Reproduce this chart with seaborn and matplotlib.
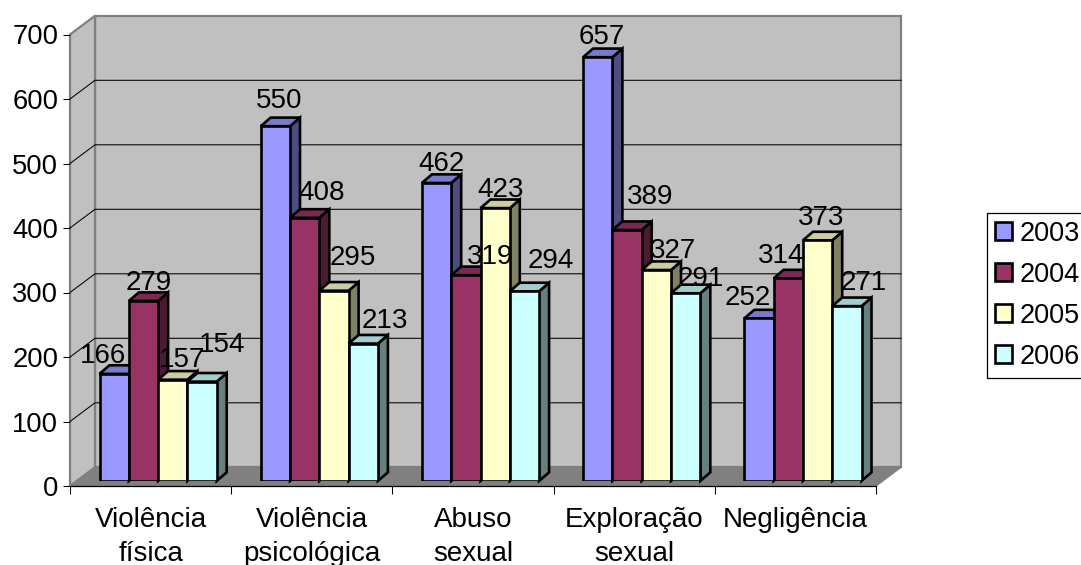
import matplotlib
matplotlib.use("Agg")
import matplotlib.pyplot as plt
from matplotlib.colors import to_rgb
from matplotlib.patches import Polygon
import numpy as np
import pandas as pd
import seaborn as sns

categories = ["Violência\nfísica", "Violência\npsicológica", "Abuso\nsexual",
              "Exploração\nsexual", "Negligência"]
years = ["2003", "2004", "2005", "2006"]
values_2003 = [166, 550, 462, 657, 252]
values_2004 = [279, 408, 319, 389, 314]
values_2005 = [157, 295, 423, 327, 373]
values_2006 = [154, 213, 294, 291, 271]
y_ticks = [0, 100, 200, 300, 400, 500, 600, 700]

colors = ["#9999FF", "#993366", "#FFFFCC", "#CCFFFF"]

# Hand-placed value labels: offset in pixels from each bar's top centre (x, up)
label_nudges = {
    "2003": [(-11, 18), (4, 25), (5, 19), (4, 20), (-11, 20)],
    "2004": [(5, 18), (17, 25), (24, 18), (23, 33), (-7, 22)],
    "2005": [(9, 20), (19, 33), (5, 18), (17, 19), (4, 22)],
    "2006": [(20, 37), (22, 23), (26, 30), (15, 14), (17, 23)],
}

plt.rcParams["font.family"] = ["Liberation Sans", "DejaVu Sans"]
W, H = 1081, 565
fig = plt.figure(figsize=(W / 100, H / 100), dpi=100)

# Front plane of the box, in pixels
left, right, base, top = 70, 876, 486, 34.5
px_per_cat = (right - left) / 5
px_per_val = (base - top) / 700

# Depth of the box and of a bar, in pixels
wall_dx, wall_dy = 25, 18.7
bar_dx, bar_dy = 10, 8.6
shift_x = (wall_dx - bar_dx) / 2
shift_y = (wall_dy - bar_dy) / 2

wall_ax = fig.add_axes([left / W, 1 - base / H, (right - left) / W, (base - top) / H])
bar_ax = fig.add_axes([(left + shift_x) / W, 1 - (base - shift_y) / H,
                       (right - left) / W, (base - top) / H])
x_lim = (-0.5, 4.5)
y_lim = (0, 700)

# Walls and floor of the box
wall_ax.set_xlim(x_lim)
wall_ax.set_ylim(y_lim)
dx = wall_dx / px_per_cat
dy = wall_dy / px_per_val
x0, x1 = x_lim
ymax = y_lim[1]
wall_style = dict(clip_on=False, edgecolor="#808080", linewidth=1.6)
wall_ax.add_patch(Polygon([(x0 + dx, dy), (x1 + dx, dy), (x1 + dx, ymax + dy), (x0 + dx, ymax + dy)],
                          facecolor="#C0C0C0", zorder=1, **wall_style))
wall_ax.add_patch(Polygon([(x0, 0), (x0 + dx, dy), (x0 + dx, ymax + dy), (x0, ymax)],
                          facecolor="#C0C0C0", zorder=1, **wall_style))
wall_ax.add_patch(Polygon([(x0, 0), (x1, 0), (x1 + dx, dy), (x0 + dx, dy)],
                          facecolor="#808080", edgecolor="#808080", clip_on=False, zorder=1))
for v in y_ticks[1:-1]:
    wall_ax.plot([x0, x0 + dx, x1 + dx], [v, v + dy, v + dy], color="black", lw=0.75,
                 clip_on=False, zorder=2)

for side in ["top", "right", "left"]:
    wall_ax.spines[side].set_visible(False)
wall_ax.spines["bottom"].set_linewidth(0.9)
wall_ax.spines["bottom"].set_zorder(3)
wall_ax.set_yticks(y_ticks)
wall_ax.tick_params(axis="y", length=5, width=0.75, pad=3.4, labelsize=19.7)
wall_ax.set_xticks(np.arange(5))
wall_ax.set_xticklabels(categories, fontsize=20, linespacing=1.4, va="top")
wall_ax.tick_params(axis="x", which="major", length=0, pad=15)
wall_ax.set_xticks(np.arange(6) - 0.5, minor=True)
wall_ax.tick_params(axis="x", which="minor", length=5.5, width=0.75)

# Bars: the front faces come from seaborn
table = pd.DataFrame({
    "categoria": np.tile(categories, len(years)),
    "ano": np.repeat(years, len(categories)),
    "casos": values_2003 + values_2004 + values_2005 + values_2006,
})
bar_width_px = 29.3
line_width = 1.9
sns.barplot(data=table, x="categoria", y="casos", hue="ano", order=categories, hue_order=years,
            palette=colors, saturation=1, width=4 * bar_width_px / px_per_cat, gap=0,
            errorbar=None, edgecolor="black", linewidth=line_width, ax=bar_ax)
bar_ax.set_xlim(x_lim)
bar_ax.set_ylim(y_lim)
bar_ax.set_axis_off()
bar_ax.patch.set_alpha(0)


def shade(color, factor):
    return tuple(c * factor for c in to_rgb(color))


# Side and top faces extruded from each front face, painted left to right
bdx = bar_dx / px_per_cat
bdy = bar_dy / px_per_val
edge = dict(edgecolor="black", linewidth=line_width, joinstyle="miter", clip_on=False)
for s, (year, container) in enumerate(zip(years, bar_ax.containers)):
    for g, bar in enumerate(container.patches):
        xa, w, h = bar.get_x(), bar.get_width(), bar.get_height()
        xb = xa + w
        z = 3 + g * 4 + s
        bar_ax.add_patch(Polygon([(xb, 0), (xb + bdx, bdy), (xb + bdx, h + bdy), (xb, h)],
                                 facecolor=shade(colors[s], 0.5), zorder=z, **edge))
        bar_ax.add_patch(Polygon([(xa, h), (xb, h), (xb + bdx, h + bdy), (xa + bdx, h + bdy)],
                                 facecolor=shade(colors[s], 0.8), zorder=z, **edge))
        bar.set_zorder(z + 0.5)
        bar.set_joinstyle("miter")
        nudge = label_nudges[year][g]
        bar_ax.annotate(str(int(h)), (xa + w / 2, h), xytext=nudge,
                        textcoords="offset pixels", ha="center", va="center",
                        fontsize=20, color="black", zorder=100, annotation_clip=False)

sns.move_legend(bar_ax, "upper left", bbox_to_anchor=(987 / W, 1 - 212.7 / H),
                bbox_transform=fig.transFigure, title=None, frameon=True, fancybox=False,
                framealpha=1, edgecolor="black", fontsize=19.5, handlelength=0.64, handleheight=0.64,
                handletextpad=0.28, labelspacing=0.55, borderpad=0.3, borderaxespad=0)
legend = bar_ax.get_legend()
legend.set_zorder(200)
legend.get_frame().set_linewidth(0.9)

fig.savefig("out.png", dpi=100, facecolor="white")
